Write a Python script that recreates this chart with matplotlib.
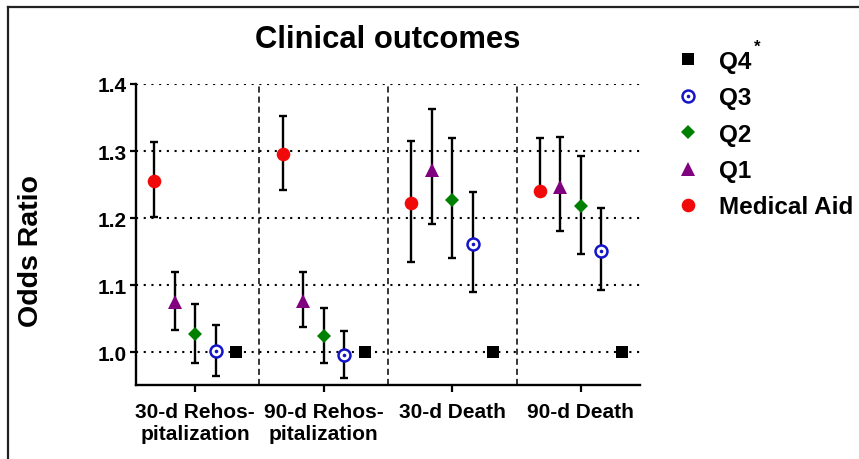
import numpy as np
import matplotlib
matplotlib.use("Agg")
import matplotlib.pyplot as plt
from matplotlib.lines import Line2D

plt.rcParams['font.family'] = ['Liberation Sans', 'DejaVu Sans']
plt.rcParams['font.weight'] = 'bold'

groups = ['30-d Rehos-\npitalization', '90-d Rehos-\npitalization', '30-d Death', '90-d Death']

# odds ratio and CI per group
ma_or = [1.256, 1.296, 1.222, 1.241]
ma_lo = [1.201, 1.2425, 1.135, 1.241]
ma_hi = [1.313, 1.352, 1.3155, 1.319]
q1_or = [1.075, 1.077, 1.272, 1.246]
q1_lo = [1.033, 1.037, 1.191, 1.181]
q1_hi = [1.120, 1.120, 1.363, 1.3205]
q2_or = [1.027, 1.024, 1.227, 1.218]
q2_lo = [0.984, 0.984, 1.141, 1.147]
q2_hi = [1.072, 1.066, 1.319, 1.293]
q3_or = [1.001, 0.996, 1.1615, 1.1515]
q3_lo = [0.964, 0.961, 1.090, 1.093]
q3_hi = [1.040, 1.031, 1.2395, 1.2147]
q4_or = [1.0, 1.0, 1.0, 1.0]

yticks = [1.0, 1.1, 1.2, 1.3, 1.4]

W, H = 859, 460
fig = plt.figure(figsize=(W / 100, H / 100), dpi=100)
ax = fig.add_axes([136 / W, 1 - 386 / H, 504 / W, 301 / H])

x = np.arange(len(groups))
off = 0.16
red, purple, green, blue = '#f00a0a', '#800080', '#008000', '#1414c8'

# reference grid
for yv in yticks:
    ax.axhline(yv, color='black', lw=1.5, ls=(0, (1, 2.7)), zorder=1)
for sep in x[:-1] + 0.5:
    ax.axvline(sep, color='black', lw=1.1, ls=(0, (4, 2.6)), zorder=1)

ebkw = dict(fmt='none', ecolor='black', elinewidth=1.7, capsize=2.7, capthick=1.7, zorder=2)

def draw(xs, y, lo, hi):
    y = np.array(y)
    err = [y - np.array(lo), np.array(hi) - y]
    ax.errorbar(xs, y, yerr=err, **ebkw)

draw(x - 2 * off, ma_or, ma_lo, ma_hi)
draw(x - off, q1_or, q1_lo, q1_hi)
draw(x, q2_or, q2_lo, q2_hi)
draw(x + off, q3_or, q3_lo, q3_hi)

ax.plot(x - 2 * off, ma_or, 'o', color=red, ms=9.8, mew=0, zorder=3)
ax.plot(x - off, q1_or, '^', color=purple, ms=10.5, mew=0, zorder=3)
ax.plot(x, q2_or, 'D', color=green, ms=6.8, mew=0, zorder=3)
ax.plot(x + off, q3_or, 'o', mfc='white', mec=blue, ms=8.6, mew=1.8, zorder=3)
ax.plot(x + off, q3_or, 'o', color=blue, ms=2.6, mew=0, zorder=4)
ax.plot(x + 2 * off, q4_or, 's', color='black', ms=9.2, mew=0, zorder=3)

ax.set_xlim(-0.46, 3.46)
ax.set_ylim(0.951, 1.4)
ax.set_yticks(yticks)
ax.set_yticklabels([f'{v:.1f}' for v in yticks])
ax.set_xticks(x)
ax.set_xticklabels(groups)
for sp in ['top', 'right']:
    ax.spines[sp].set_visible(False)
for sp in ['left', 'bottom']:
    ax.spines[sp].set_linewidth(1.7)
ax.tick_params(axis='y', length=4.5, width=1.6, pad=2, labelsize=15)
ax.tick_params(axis='x', length=5, width=1.6, pad=7, labelsize=15)
ax.set_ylabel('Odds Ratio', fontsize=20.5, fontweight='bold')
ax.yaxis.set_label_coords(-0.183, 0.45)

fig.text(388 / W, 1 - 48 / H, 'Clinical outcomes', fontsize=22.3, fontweight='bold',
         ha='center', va='baseline')

handles = [
    Line2D([], [], ls='none', marker='s', color='black', ms=9.2, mew=0),
    (Line2D([], [], ls='none', marker='o', mfc='white', mec=blue, ms=8.6, mew=1.8),
     Line2D([], [], ls='none', marker='o', color=blue, ms=2.6, mew=0)),
    Line2D([], [], ls='none', marker='D', color=green, ms=6.8, mew=0),
    Line2D([], [], ls='none', marker='^', color=purple, ms=10.5, mew=0),
    Line2D([], [], ls='none', marker='o', color=red, ms=9.8, mew=0),
]
labels = ['Q4', 'Q3', 'Q2', 'Q1', 'Medical Aid']
fig.legend(handles, labels, loc='upper left', bbox_to_anchor=(676 / W, 1 - 51 / H),
           frameon=False, fontsize=17.5, handlelength=1.0, handletextpad=0.75,
           labelspacing=0.55, borderpad=0, borderaxespad=0)
fig.text(757 / W, 1 - 52 / H, '*', fontsize=12, fontweight='bold', ha='center', va='baseline')

# cropped outer frame
fig.add_artist(Line2D([8 / W, 1], [1 - 8 / H, 1 - 8 / H], color='#222222', lw=1.6))
fig.add_artist(Line2D([8 / W, 8 / W], [0, 1 - 8 / H], color='#222222', lw=1.6))

fig.savefig('out.png', dpi=100)
